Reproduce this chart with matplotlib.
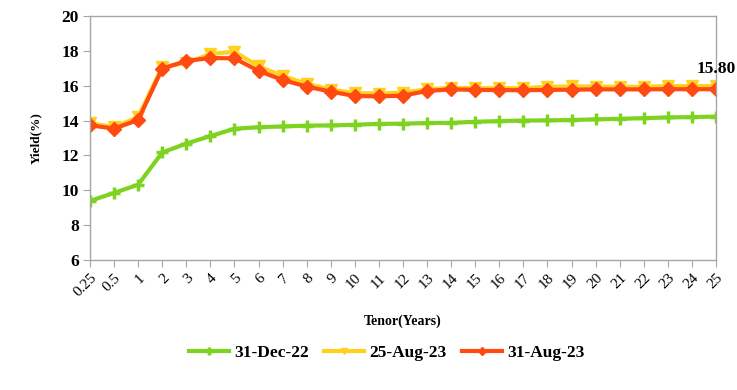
import matplotlib
matplotlib.use("Agg")
import matplotlib.pyplot as plt
import numpy as np

plt.rcParams['font.family'] = ['Liberation Serif', 'DejaVu Serif']
plt.rcParams['font.weight'] = 'bold'

# tenor buckets
tenors = ['0.25', '0.5', '1', '2', '3', '4', '5', '6', '7', '8', '9', '10', '11', '12',
          '13', '14', '15', '16', '17', '18', '19', '20', '21', '22', '23', '24', '25']

# yields (%)
dec22 = [9.39, 9.85, 10.32, 12.17, 12.68, 13.11, 13.53, 13.62, 13.66, 13.71, 13.72, 13.76, 13.81, 13.82,
         13.86, 13.87, 13.93, 13.97, 14.00, 14.01, 14.03, 14.07, 14.10, 14.14, 14.18, 14.20, 14.23]
aug25 = [13.85, 13.62, 14.20, 17.08, 17.30, 17.82, 17.95, 17.12, 16.55, 16.12, 15.78, 15.58, 15.55, 15.60,
         15.80, 15.88, 15.86, 15.86, 15.86, 15.94, 15.96, 15.95, 15.94, 15.94, 15.98, 15.98, 15.98]
aug31 = [13.73, 13.54, 14.03, 16.98, 17.42, 17.59, 17.57, 16.85, 16.33, 15.95, 15.66, 15.41, 15.39, 15.43,
         15.70, 15.79, 15.76, 15.75, 15.74, 15.76, 15.77, 15.79, 15.79, 15.79, 15.80, 15.80, 15.80]

green = '#7ED321'
yellow = '#FFD21F'
red = '#FF4A12'
grey = '#A6A6A6'

fig = plt.figure(figsize=(7.37, 3.90), dpi=100)
ax = fig.add_axes([0.1221, 0.3333, 0.8494, 0.6257])

x = np.arange(len(tenors))
ax.plot(x, dec22, color=green, lw=3, marker='+', ms=9, mew=2.5, label='31-Dec-22')
ax.plot(x, aug25, color=yellow, lw=3, marker='v', ms=8, label='25-Aug-23')
ax.plot(x, aug31, color=red, lw=3, marker='D', ms=7, label='31-Aug-23')

ax.annotate('%.2f' % aug31[-1], (x[-1], aug31[-1]), xytext=(0, 9), textcoords='offset points',
            ha='center', va='bottom', fontsize=12.5, fontweight='bold')

ax.set_xlim(0, len(tenors) - 1)
ax.set_ylim(6, 20)
ax.set_yticks(range(6, 21, 2))
ax.set_xticks(x)
ax.set_xticklabels(tenors, rotation=45, ha='right', rotation_mode='anchor', fontsize=11, fontweight='normal')
ax.tick_params(axis='y', length=5, color=grey, labelsize=12.5, pad=3)
ax.tick_params(axis='x', length=5, color=grey, pad=3)
for s in ax.spines.values():
    s.set_color(grey)
    s.set_linewidth(1)

ax.set_ylabel('Yield(%)', fontsize=9.5, fontweight='bold', labelpad=14)
ax.set_xlabel('Tenor(Years)', fontsize=10, fontweight='bold', labelpad=11)

fig.legend(loc='center', bbox_to_anchor=(0.525, 0.095), ncol=3, frameon=False, markerscale=0.6,
           fontsize=12.5, handlelength=2.3, columnspacing=0.9, handletextpad=0.3)

fig.savefig('out.png', dpi=100)
